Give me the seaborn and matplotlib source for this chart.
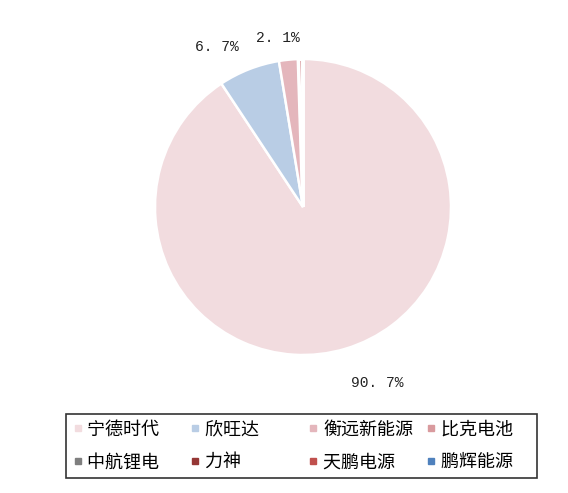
import matplotlib
matplotlib.use("Agg")
import matplotlib.pyplot as plt
from matplotlib.lines import Line2D
import seaborn as sns

# 各企业份额（%）
companies = ["宁德时代", "欣旺达", "衡远新能源", "比克电池",
             "中航锂电", "力神", "天鹏电源", "鹏辉能源"]
shares = [90.7, 6.7, 2.1, 0.5, 0.0, 0.0, 0.0, 0.0]
pct_labels = ["90.7%", "6.7%", "2.1%", "", "", "", "", ""]
colors = ["#f2dcdf", "#b9cde5", "#e4b6bc", "#d99a9e",
          "#7f7f7f", "#953735", "#c0504d", "#4f81bd"]

sns.set_theme(style="white")
plt.rcParams['font.family'] = ['Noto Sans CJK SC', 'DejaVu Sans']

W, H = 568, 493
fig = plt.figure(figsize=(W / 100, H / 100), dpi=100)
fig.patch.set_facecolor("white")

# 饼图位置：圆心约 (303, 207)，半径约 148 像素
cx, cy, r = 303, 207, 148
ax = fig.add_axes([(cx - r) / W, (H - cy - r) / H, 2 * r / W, 2 * r / H])
palette = sns.color_palette(colors)
wedges, _ = ax.pie(shares, colors=palette, startangle=90, counterclock=False,
                   radius=1.0, wedgeprops=dict(edgecolor="white", linewidth=1.8))
# 很小的扇区几乎被白色分隔线盖住
for w, v in zip(wedges, shares):
    if v < 1:
        w.set_linewidth(2.6)
ax.set_xlim(-1, 1)
ax.set_ylim(-1, 1)
ax.set_aspect("equal")
ax.axis("off")

# 百分比标签位置（轴坐标，偏离饼图外侧）
label_pos = {0: (0.50, -1.19), 1: (-0.58, 1.08), 2: (-0.17, 1.14)}
for i, txt in enumerate(pct_labels):
    if txt:
        x, y = label_pos[i]
        ax.text(x, y, txt.replace(".", ". "), ha="center", va="center",
                fontsize=10.5, family=["Liberation Mono", "DejaVu Sans Mono"],
                color="#222222")

# 图例按行排列（matplotlib 按列填充，所以先转置顺序）
ncol = 4
order = [r_ * ncol + c for c in range(ncol) for r_ in range(2)]
handles = [Line2D([0], [0], marker="s", linestyle="none", markersize=4.5,
                  markerfacecolor=c, markeredgecolor=c) for c in colors]
# 用全角空格补齐，使各列等宽
labels = [n + "\u3000" * (5 - len(n)) for n in companies]
leg = fig.legend([handles[i] for i in order], [labels[i] for i in order],
                 ncol=ncol, loc="center",
                 bbox_to_anchor=((65 + 538) / 2 / W, 1 - 446 / H),
                 frameon=True, fontsize=13, handletextpad=0.24,
                 columnspacing=0.7, handlelength=0.6, borderpad=0.35,
                 labelspacing=0.8, fancybox=False)
leg.get_frame().set_edgecolor("black")
leg.get_frame().set_linewidth(1.2)
for t in leg.get_texts():
    t.set_color("#000000")

fig.savefig("out.png", dpi=100, facecolor="white")
